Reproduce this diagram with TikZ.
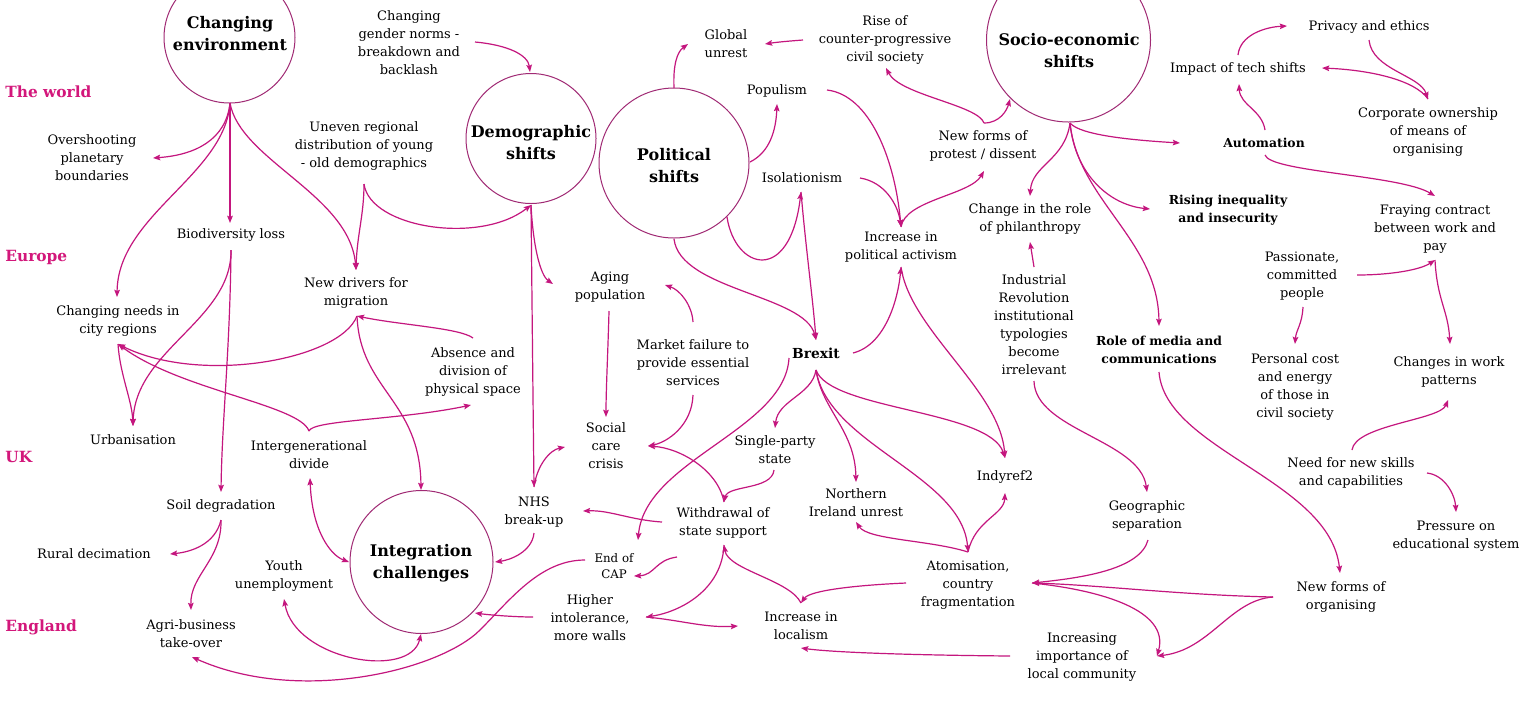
\documentclass[tikz,border=0pt]{standalone}
\usepackage{fontspec}
\setmainfont{DejaVu Serif}
\usetikzlibrary{arrows.meta}
\definecolor{lnkcol}{HTML}{C4167E}
\definecolor{ringcol}{HTML}{A02A74}
\definecolor{rgncol}{HTML}{D3177B}
\newcommand{\fnorm}{\fontsize{6.5}{9}\selectfont}
\newcommand{\fbsmall}{\fontsize{6.2}{9}\selectfont\bfseries}
\newcommand{\fbmid}{\fontsize{6.9}{9}\selectfont\bfseries}
\newcommand{\fttl}{\fontsize{8}{11}\selectfont\bfseries}
\newcommand{\frgn}{\fontsize{7.7}{9}\selectfont\bfseries}
\newcommand{\fsml}{\fontsize{5.9}{7.8}\selectfont}
\begin{document}
\begin{tikzpicture}[x=0.5pt,y=-0.5pt,
  lbl/.style={align=center,inner sep=0pt,font=\fnorm,text=black},
  lblb/.style={align=center,inner sep=0pt,font=\fbsmall,text=black},
  sml/.style={align=center,inner sep=0pt,font=\fsml,text=black},
  ttl/.style={align=center,inner sep=0pt,font=\fttl,text=black},
  rgn/.style={anchor=west,inner sep=0pt,font=\frgn,text=rgncol},
  ring/.style={circle,draw=ringcol,line width=0.5pt,inner sep=0pt},
  arr/.style={draw=lnkcol,line width=0.6pt,-{Stealth[length=3.6pt,width=2.8pt,inset=0.6pt]}},
  darr/.style={draw=lnkcol,line width=0.6pt,{Stealth[length=3.6pt,width=2.8pt,inset=0.6pt]}-{Stealth[length=3.6pt,width=2.8pt,inset=0.6pt]}}
]
\fill[white] (0,0) rectangle (1536,708);
\useasboundingbox (0,0) rectangle (1536,708);

% region labels
\node[rgn] (rWorld) at (5,92) {The world};
\node[rgn] (rEurope) at (5,257) {Europe};
\node[rgn] (rUK) at (5,457) {UK};
\node[rgn] (rEngland) at (5,627) {England};

% circles
\node[ring,minimum size=65.5pt] (env) at (229.5,37.5) {};
\node[ttl] (envT) at (230,34) {Changing\\environment};
\node[ring,minimum size=65pt] (demog) at (531,138.5) {};
\node[ttl] (demogT) at (531,143) {Demographic\\shifts};
\node[ring,minimum size=75pt] (polit) at (674,163) {};
\node[ttl] (politT) at (674,166) {Political\\shifts};
\node[ring,minimum size=82pt] (socio) at (1068.5,40) {};
\node[ttl] (socioT) at (1069,51) {Socio-economic\\shifts};
\node[ring,minimum size=71.5pt] (integ) at (421.5,562) {};
\node[ttl] (integT) at (421,563) {Integration\\challenges};

% text nodes
\node[lbl] (gender) at (409,43) {Changing\\gender norms -\\breakdown and\\backlash};
\node[lbl] (global) at (726,44) {Global\\unrest};
\node[lbl] (rise) at (885,40) {Rise of\\counter-progressive\\civil society};
\node[lbl] (privacy) at (1369,27) {Privacy and ethics};
\node[lbl] (impact) at (1238,69) {Impact of tech shifts};
\node[lbl] (corp) at (1428,132) {Corporate ownership\\of means of\\organising};
\node[lblb] (autom) at (1264,143) {Automation};
\node[lblb] (rising) at (1228,210) {Rising inequality\\and insecurity};
\node[lbl] (fraying) at (1435,229) {Fraying contract\\between work and\\pay};
\node[lbl] (passion) at (1302,276) {Passionate,\\committed\\people};
\node[lblb] (media) at (1159,350) {Role of media and\\communications};
\node[lbl] (personal) at (1295,387) {Personal cost\\and energy\\of those in\\civil society};
\node[lbl] (workpat) at (1449,372) {Changes in work\\patterns};
\node[lbl] (skills) at (1351,473) {Need for new skills\\and capabilities};
\node[lbl] (pressure) at (1456,536) {Pressure on\\educational system};
\node[lbl] (neworg) at (1341,597) {New forms of\\organising};
\node[lbl] (importance) at (1082,657) {Increasing\\importance of\\local community};
\node[lbl] (geo) at (1147,516) {Geographic\\separation};
\node[lbl] (atom) at (968,585) {Atomisation,\\country\\fragmentation};
\node[lbl] (indy) at (1005,477) {Indyref2};
\node[lbl] (industrial) at (1034,325) {Industrial\\Revolution\\institutional\\typologies\\become\\irrelevant};
\node[lbl] (philan) at (1030,219) {Change in the role\\of philanthropy};
\node[lbl] (protest) at (983,146) {New forms of\\protest / dissent};
\node[lbl] (activism) at (901,247) {Increase in\\political activism};
\node[lbl] (populism) at (777,91) {Populism};
\node[lbl] (isol) at (802,178) {Isolationism};
\node[lblb,font=\fbmid] (brexit) at (816,353) {Brexit};
\node[lbl] (market) at (693,363) {Market failure to\\provide essential\\services};
\node[lbl] (aging) at (610,287) {Aging\\population};
\node[lbl] (social) at (606,446) {Social\\care\\crisis};
\node[lbl] (single) at (775,450) {Single-party\\state};
\node[lbl] (ni) at (856,503) {Northern\\Ireland unrest};
\node[lbl] (withdraw) at (723,523) {Withdrawal of\\state support};
\node[lbl] (nhs) at (534,512) {NHS\\break-up};
\node[sml] (cap) at (614,566) {End of\\CAP};
\node[lbl] (intol) at (590,618) {Higher\\intolerance,\\more walls};
\node[lbl] (localism) at (801,626) {Increase in\\localism};
\node[lbl] (youth) at (284,576) {Youth\\unemployment};
\node[lbl] (intergen) at (309,455) {Intergenerational\\divide};
\node[lbl] (soil) at (221,506) {Soil degradation};
\node[lbl] (rural) at (94,554) {Rural decimation};
\node[lbl] (agri) at (191,634) {Agri-business\\take-over};
\node[lbl] (urban) at (133,440) {Urbanisation};
\node[lbl] (city) at (118,321) {Changing needs in\\city regions};
\node[lbl] (biodiv) at (231,235) {Biodiversity loss};
\node[lbl] (overshoot) at (92,158) {Overshooting\\planetary\\boundaries};
\node[lbl] (uneven) at (364,146) {Uneven regional\\distribution of young\\- old demographics};
\node[lbl] (drivers) at (356,293) {New drivers for\\migration};
\node[lbl] (absence) at (473,372) {Absence and\\division of\\physical space};

% connector end points
\coordinate (envOut) at (230,103);
\coordinate (overIn) at (153,158);
\coordinate (biodivIn) at (230,223);
\coordinate (cityIn) at (117,297);
\coordinate (drvIn) at (356,270);
\coordinate (genderOut) at (475,42);
\coordinate (demogIn) at (530,72);
\coordinate (unevenOut) at (364,184);
\coordinate (demogB) at (531,205);
\coordinate (agingIn) at (553,284);
\coordinate (nhsTop) at (534,487);
\coordinate (politTop) at (674,88);
\coordinate (globalIn) at (688,44);
\coordinate (riseOut) at (803,40);
\coordinate (globalIn2) at (765,44);
\coordinate (politR) at (750,162);
\coordinate (popIn) at (777,104);
\coordinate (politBR) at (727,217);
\coordinate (isolB) at (801,192);
\coordinate (politB) at (674,239);
\coordinate (brexitTop) at (816,340);
\coordinate (popOut) at (827,90);
\coordinate (isolOut) at (860,178);
\coordinate (actTop) at (901,227);
\coordinate (protestIn) at (984,171);
\coordinate (protestTop) at (984,123);
\coordinate (riseIn) at (886,68);
\coordinate (socioIn) at (1010,99);
\coordinate (brexitR) at (853,353);
\coordinate (actB) at (901,267);
\coordinate (indyTop) at (1005,458);
\coordinate (brexitB) at (816,370);
\coordinate (singleIn) at (775,428);
\coordinate (niIn) at (856,482);
\coordinate (atomTop) at (968,552);
\coordinate (brexitL) at (789,358);
\coordinate (capIn) at (638,540);
\coordinate (singleOut) at (774,470);
\coordinate (withTop) at (724,502);
\coordinate (marketB) at (693,395);
\coordinate (socialIn) at (648,446);
\coordinate (marketT) at (693,322);
\coordinate (agingIn2) at (665,285);
\coordinate (agingB) at (609,311);
\coordinate (socialTop) at (606,417);
\coordinate (socialL) at (565,447);
\coordinate (withL) at (662,522);
\coordinate (nhsR) at (583,511);
\coordinate (nhsB) at (534,533);
\coordinate (integR) at (495,562);
\coordinate (withCapOut) at (677,557);
\coordinate (capR) at (634,576);
\coordinate (withB) at (724,545);
\coordinate (intolR) at (646,617);
\coordinate (locTop) at (801,603);
\coordinate (locL) at (738,626);
\coordinate (intolL) at (533,617);
\coordinate (integR2) at (475,613);
\coordinate (capL) at (585,560);
\coordinate (capMid) at (480,630);
\coordinate (agriB) at (192,657);
\coordinate (youthB) at (284,599);
\coordinate (integB) at (421,634);
\coordinate (intergenB) at (310,478);
\coordinate (integL) at (349,562);
\coordinate (intergenTop) at (309,431);
\coordinate (absenceIn) at (471,405);
\coordinate (cityB) at (118,344);
\coordinate (absenceTop) at (473,338);
\coordinate (drvB) at (357,316);
\coordinate (integTop) at (421,490);
\coordinate (urbanIn) at (133,426);
\coordinate (biodivB) at (231,250);
\coordinate (soilIn) at (221,492);
\coordinate (soilB) at (221,520);
\coordinate (ruralIn) at (170,554);
\coordinate (agriIn) at (191,610);
\coordinate (socioB) at (1070,123);
\coordinate (philIn) at (1030,196);
\coordinate (autoIn) at (1180,143);
\coordinate (risingIn) at (1150,209);
\coordinate (mediaIn) at (1159,326);
\coordinate (indTop) at (1034,267);
\coordinate (philB) at (1030,242);
\coordinate (indBottom) at (1034,381);
\coordinate (geoIn) at (1147,492);
\coordinate (mediaB) at (1159,372);
\coordinate (neworgIn) at (1340,573);
\coordinate (autoTop) at (1265,130);
\coordinate (impactB) at (1239,84);
\coordinate (impactTop) at (1238,55);
\coordinate (privIn) at (1287,26);
\coordinate (privB) at (1369,40);
\coordinate (corpTop) at (1428,99);
\coordinate (impactR) at (1322,68);
\coordinate (autoB) at (1265,155);
\coordinate (frayIn) at (1435,196);
\coordinate (passR) at (1357,275);
\coordinate (frayB) at (1435,260);
\coordinate (workIn) at (1450,344);
\coordinate (passB) at (1303,307);
\coordinate (persIn) at (1295,344);
\coordinate (skillsTop) at (1352,450);
\coordinate (workB) at (1448,400);
\coordinate (skillsR) at (1427,473);
\coordinate (pressIn) at (1456,512);
\coordinate (neworgL) at (1273,597);
\coordinate (atomR) at (1032,583);
\coordinate (impIn) at (1157,656);
\coordinate (geoB) at (1148,540);
\coordinate (impL) at (1010,656);
\coordinate (locB) at (801,648);
\coordinate (atomL) at (906,583);
\coordinate (niB) at (856,522);
\coordinate (indyB) at (1005,493);

% connectors
\draw[arr] (envOut) .. controls (226,140) and (195,155) .. (overIn);
\draw[arr] (envOut) -- (biodivIn);
\draw[arr] (envOut) .. controls (225,175) and (118,215) .. (cityIn);
\draw[arr] (envOut) .. controls (240,160) and (350,195) .. (drvIn);
\draw[arr] (genderOut) .. controls (508,45) and (528,55) .. (demogIn);
\draw[arr] (unevenOut) .. controls (364,215) and (357,235) .. (drvIn);
\draw[arr] (unevenOut) .. controls (370,228) and (480,245) .. (demogB);
\draw[arr] (demogB) .. controls (533,245) and (540,275) .. (agingIn);
\draw[arr] (demogB) .. controls (532,300) and (533,400) .. (nhsTop);
\draw[arr] (politTop) .. controls (673,65) and (677,52) .. (globalIn);
\draw[arr] (riseOut) .. controls (790,41) and (778,42) .. (globalIn2);
\draw[arr] (politR) .. controls (770,152) and (776,130) .. (popIn);
\draw[arr] (politBR) .. controls (735,270) and (790,285) .. (isolB);
\draw[arr] (politB) .. controls (680,290) and (805,295) .. (brexitTop);
\draw[arr] (isolB) .. controls (806,250) and (813,300) .. (brexitTop);
\draw[arr] (popOut) .. controls (870,95) and (895,160) .. (actTop);
\draw[arr] (isolOut) .. controls (885,182) and (898,205) .. (actTop);
\draw[arr] (actTop) .. controls (905,200) and (970,195) .. (protestIn);
\draw[arr] (protestTop) .. controls (978,105) and (900,95) .. (riseIn);
\draw[arr] (protestTop) .. controls (1000,123) and (1007,110) .. (socioIn);
\draw[arr] (brexitR) .. controls (885,345) and (898,300) .. (actB);
\draw[arr] (actB) .. controls (910,330) and (1000,390) .. (indyTop);
\draw[arr] (brexitB) .. controls (830,410) and (990,410) .. (indyTop);
\draw[arr] (brexitB) .. controls (812,395) and (778,400) .. (singleIn);
\draw[arr] (brexitB) .. controls (822,410) and (855,430) .. (niIn);
\draw[arr] (brexitB) .. controls (828,445) and (962,475) .. (atomTop);
\draw[arr] (brexitL) .. controls (785,430) and (645,460) .. (capIn);
\draw[arr] (singleOut) .. controls (772,490) and (728,485) .. (withTop);
\draw[arr] (marketB) .. controls (692,425) and (668,442) .. (socialIn);
\draw[arr] (marketT) .. controls (692,305) and (680,290) .. (agingIn2);
\draw[arr] (withTop) .. controls (718,470) and (680,448) .. (socialIn);
\draw[arr] (agingB) .. controls (608,350) and (606,390) .. (socialTop);
\draw[arr] (nhsTop) .. controls (537,465) and (550,450) .. (socialL);
\draw[arr] (withL) .. controls (630,520) and (610,510) .. (nhsR);
\draw[arr] (nhsB) .. controls (532,552) and (510,560) .. (integR);
\draw[arr] (withCapOut) .. controls (655,560) and (655,575) .. (capR);
\draw[arr] (withB) .. controls (722,590) and (680,612) .. (intolR);
\draw[arr] (locTop) .. controls (790,580) and (728,570) .. (withB);
\draw[arr] (intolR) .. controls (680,620) and (705,628) .. (locL);
\draw[arr] (intolL) .. controls (515,617) and (490,615) .. (integR2);
\draw[arr] (capL) .. controls (540,560) and (510,600) .. (capMid) .. controls (440,670) and (300,705) .. (agriB);
\draw[darr] (youthB) .. controls (295,660) and (410,680) .. (integB);
\draw[darr] (intergenB) .. controls (312,530) and (330,555) .. (integL);
\draw[arr] (intergenTop) .. controls (312,420) and (400,420) .. (absenceIn);
\draw[arr] (intergenTop) .. controls (300,405) and (180,390) .. (cityB);
\draw[arr] (absenceTop) .. controls (460,328) and (400,325) .. (drvB);
\draw[arr] (drvB) .. controls (340,360) and (200,385) .. (cityB);
\draw[arr] (drvB) .. controls (360,390) and (420,400) .. (integTop);
\draw[arr] (cityB) .. controls (120,375) and (132,400) .. (urbanIn);
\draw[arr] (biodivB) .. controls (232,320) and (135,350) .. (urbanIn);
\draw[arr] (biodivB) .. controls (230,350) and (222,420) .. (soilIn);
\draw[arr] (soilB) .. controls (215,545) and (190,552) .. (ruralIn);
\draw[arr] (soilB) .. controls (222,560) and (190,575) .. (agriIn);
\draw[arr] (socioB) .. controls (1065,160) and (1032,165) .. (philIn);
\draw[arr] (socioB) .. controls (1080,135) and (1130,140) .. (autoIn);
\draw[arr] (socioB) .. controls (1075,175) and (1110,205) .. (risingIn);
\draw[arr] (socioB) .. controls (1078,200) and (1158,240) .. (mediaIn);
\draw[arr] (indTop) -- (philB);
\draw[arr] (indBottom) .. controls (1035,430) and (1140,440) .. (geoIn);
\draw[arr] (mediaB) .. controls (1165,450) and (1330,480) .. (neworgIn);
\draw[arr] (autoTop) .. controls (1262,110) and (1240,105) .. (impactB);
\draw[arr] (impactTop) .. controls (1240,35) and (1265,27) .. (privIn);
\draw[arr] (privB) .. controls (1372,70) and (1420,75) .. (corpTop);
\draw[arr] (corpTop) .. controls (1415,80) and (1370,70) .. (impactR);
\draw[arr] (autoB) .. controls (1270,172) and (1400,175) .. (frayIn);
\draw[arr] (passR) .. controls (1390,275) and (1420,270) .. (frayB);
\draw[arr] (frayB) .. controls (1437,300) and (1448,310) .. (workIn);
\draw[arr] (passB) .. controls (1302,325) and (1296,330) .. (persIn);
\draw[arr] (skillsTop) .. controls (1355,425) and (1440,420) .. (workB);
\draw[arr] (skillsR) .. controls (1445,475) and (1455,495) .. (pressIn);
\draw[arr] (neworgL) .. controls (1180,595) and (1100,585) .. (atomR);
\draw[arr] (neworgL) .. controls (1230,600) and (1210,650) .. (impIn);
\draw[arr] (geoB) .. controls (1140,570) and (1080,578) .. (atomR);
\draw[arr] (atomR) .. controls (1100,590) and (1170,610) .. (impIn);
\draw[arr] (impL) .. controls (900,655) and (830,652) .. (locB);
\draw[arr] (atomL) .. controls (860,585) and (810,590) .. (locTop);
\draw[arr] (atomTop) .. controls (930,540) and (868,540) .. (niB);
\draw[arr] (atomTop) .. controls (975,520) and (1004,515) .. (indyB);
\end{tikzpicture}
\end{document}
